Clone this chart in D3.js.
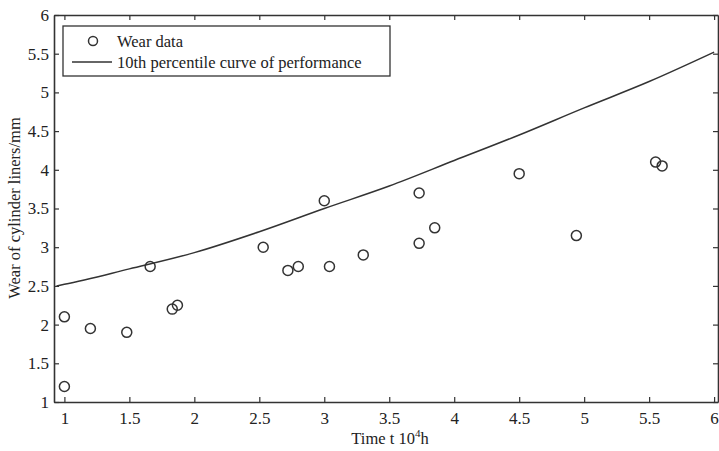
<!DOCTYPE html>
<html>
<head>
<meta charset="utf-8">
<script src="https://cdn.jsdelivr.net/npm/d3@7"></script>
<style>
  body { margin: 0; background: #fff; }
  svg { display: block; font-family: "Liberation Serif", "Times New Roman", serif; }
</style>
</head>
<body>
<div id="chart"></div>
<script>
// Wear data (time in 10^4 h, wear in mm)
const wearTime = [1.0, 1.0, 1.2, 1.48, 1.66, 1.83, 1.87, 2.53, 2.72, 2.8, 3.0, 3.04, 3.3, 3.73, 3.73, 3.85, 4.5, 4.94, 5.55, 5.6];
const wearValue = [2.1, 1.2, 1.95, 1.9, 2.75, 2.2, 2.25, 3.0, 2.7, 2.75, 3.6, 2.75, 2.9, 3.7, 3.05, 3.25, 3.95, 3.15, 4.1, 4.05];

// 10th percentile curve
const curveTime = [0.94, 1.0, 1.5, 2.0, 2.5, 3.0, 3.5, 4.0, 4.5, 5.0, 5.5, 6.0];
const curveValue = [2.5, 2.52, 2.72, 2.93, 3.2, 3.5, 3.79, 4.12, 4.45, 4.8, 5.14, 5.52];

const xTicks = [1, 1.5, 2, 2.5, 3, 3.5, 4, 4.5, 5, 5.5, 6];
const yTicks = [1, 1.5, 2, 2.5, 3, 3.5, 4, 4.5, 5, 5.5, 6];

const svgWidth = 719;
const svgHeight = 451;
const margin = { top: 15, right: 1, bottom: 49, left: 54 };
const width = svgWidth - margin.left - margin.right;
const height = svgHeight - margin.top - margin.bottom;
const ink = "#333";

const svg = d3.select("#chart")
    .append("svg")
    .attr("width", svgWidth)
    .attr("height", svgHeight);

const g = svg.append("g")
    .attr("transform", `translate(${margin.left},${margin.top})`);

const xScale = d3.scaleLinear().domain([0.92, 6.03]).range([0, width]);
const yScale = d3.scaleLinear().domain([1, 6]).range([height, 0]);

const fmt = d => String(d);

// Axes with inward ticks, mirrored on top/right
const xAxis = g.append("g")
    .attr("transform", `translate(0,${height})`)
    .call(d3.axisBottom(xScale).tickValues(xTicks).tickFormat(fmt).tickSizeInner(-5).tickSizeOuter(0).tickPadding(10));
const xTop = g.append("g")
    .call(d3.axisTop(xScale).tickValues(xTicks).tickFormat("").tickSizeInner(-5).tickSizeOuter(0));
const yAxis = g.append("g")
    .call(d3.axisLeft(yScale).tickValues(yTicks).tickFormat(fmt).tickSizeInner(-5).tickSizeOuter(0).tickPadding(5));
const yRight = g.append("g")
    .attr("transform", `translate(${width},0)`)
    .call(d3.axisRight(yScale).tickValues(yTicks).tickFormat("").tickSizeInner(-5).tickSizeOuter(0));

[xAxis, xTop, yAxis, yRight].forEach(a => {
    a.select(".domain").attr("stroke", ink).attr("stroke-width", 1.6);
    a.selectAll(".tick line").attr("stroke", ink).attr("stroke-width", 1.2);
    a.selectAll("text").attr("font-size", "17px").attr("fill", "#222")
        .attr("font-family", "Liberation Serif, serif");
});

// Curve
const line = d3.line()
    .x((d, i) => xScale(curveTime[i]))
    .y(d => yScale(d))
    .curve(d3.curveMonotoneX);

g.append("path")
    .datum(curveValue)
    .attr("d", line)
    .attr("fill", "none")
    .attr("stroke", ink)
    .attr("stroke-width", 1.5);

// Wear data points
g.selectAll(".pt")
    .data(wearValue)
    .enter()
    .append("circle")
    .attr("class", "pt")
    .attr("cx", (d, i) => xScale(wearTime[i]))
    .attr("cy", d => yScale(d))
    .attr("r", 5)
    .attr("fill", "none")
    .attr("stroke", ink)
    .attr("stroke-width", 1.5);

// Legend
const legend = svg.append("g");
legend.append("rect")
    .attr("x", 63).attr("y", 26)
    .attr("width", 327).attr("height", 50)
    .attr("fill", "#fff")
    .attr("stroke", ink)
    .attr("stroke-width", 1.3);
legend.append("circle")
    .attr("cx", 93).attr("cy", 41).attr("r", 4.5)
    .attr("fill", "none").attr("stroke", ink).attr("stroke-width", 1.5);
legend.append("text")
    .attr("x", 117).attr("y", 47)
    .attr("font-size", "16.5px").attr("fill", "#222")
    .text("Wear data");
legend.append("line")
    .attr("x1", 72).attr("x2", 112).attr("y1", 62).attr("y2", 62)
    .attr("stroke", ink).attr("stroke-width", 1.3);
legend.append("text")
    .attr("x", 117).attr("y", 68)
    .attr("font-size", "16.5px").attr("fill", "#222")
    .text("10th percentile curve of performance");

// X-axis label
const xl = svg.append("text")
    .attr("x", 390)
    .attr("y", 444)
    .attr("text-anchor", "middle")
    .attr("font-size", "16.5px")
    .attr("fill", "#222");
xl.append("tspan").text("Time t 10");
xl.append("tspan").attr("font-size", "11px").attr("dy", -7).text("4");
xl.append("tspan").attr("dy", 7).text("h");

// Y-axis label
svg.append("text")
    .attr("transform", "rotate(-90)")
    .attr("x", -208)
    .attr("y", 20)
    .attr("text-anchor", "middle")
    .attr("font-size", "16.5px")
    .attr("fill", "#222")
    .text("Wear of cylinder liners/mm");
</script>
</body>
</html>
